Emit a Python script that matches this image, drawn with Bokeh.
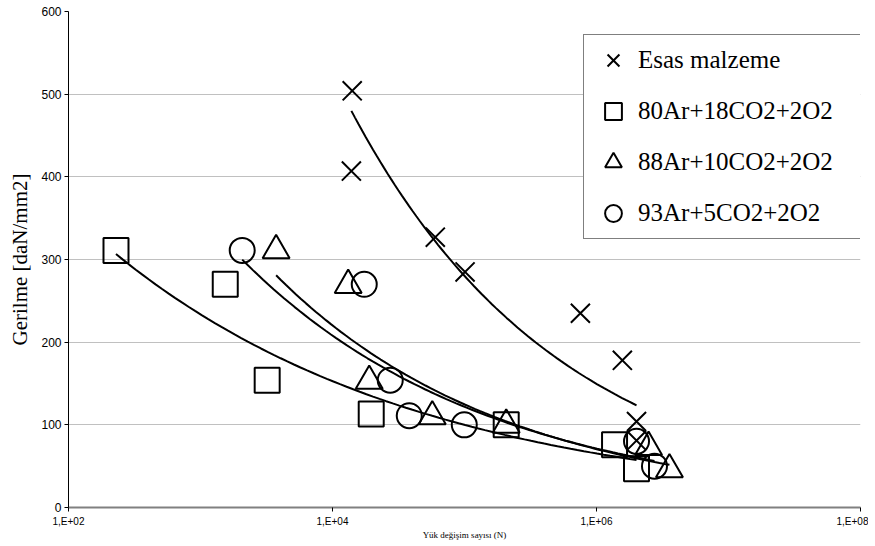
import numpy as np
from bokeh.plotting import figure
from bokeh.models import Range1d, FixedTicker, Legend, LegendItem
from bokeh.embed import file_html
from bokeh.resources import INLINE

# ---------------- data ----------------
series_names = ["Esas malzeme", "80Ar+18CO2+2O2", "88Ar+10CO2+2O2", "93Ar+5CO2+2O2"]

esas_n = [14100, 13900, 60100, 101000, 755000, 1570000, 2010000, 2010000]
esas_s = [504, 407, 327, 285, 235, 178, 104, 81]

ar80_n = [229, 1540, 3200, 19650, 207000, 1370000, 2010000]
ar80_s = [311, 270, 154, 113, 100, 76, 47]

ar88_n = [3740, 13150, 18980, 57000, 207000, 2480000, 3570000]
ar88_s = [311, 269, 153, 110, 100, 73, 46]

ar93_n = [2070, 17400, 27380, 38150, 99600, 2010000, 2750000]
ar93_s = [311, 270, 154, 111, 100, 80, 50]

x_ticks = [1e2, 1e4, 1e6, 1e8]
x_tick_labels = ["1,E+02", "1,E+04", "1,E+06", "1,E+08"]
y_ticks = [0, 100, 200, 300, 400, 500, 600]

x_title = "Yük değişim sayısı (N)"
y_title = "Gerilme [daN/mm2]"

# ---------------- figure ----------------
p = figure(frame_width=792, frame_height=496,
           x_axis_type="log", x_range=Range1d(1e2, 1e8), y_range=Range1d(0, 600),
           output_backend="svg", toolbar_location=None,
           min_border_left=68, min_border_right=8, min_border_top=11, min_border_bottom=26,
           background_fill_color="white", border_fill_color="white")
p.outline_line_color = None


def power_fit(n, s, npts=80):
    ln = np.log10(np.asarray(n, dtype=float))
    ls = np.log10(np.asarray(s, dtype=float))
    b, a = np.polyfit(ln, ls, 1)
    xs = np.logspace(ln.min(), ln.max(), npts)
    ys = 10 ** a * xs ** b
    return xs, ys


series = [
    (esas_n, esas_s, "x", 27),
    (ar80_n, ar80_s, "square", 25),
    (ar88_n, ar88_s, "triangle", 27),
    (ar93_n, ar93_s, "circle", 25),
]

items = []
for (n, s, mk, sz), name in zip(series, series_names):
    r = p.scatter(n, s, marker=mk, size=sz, line_color="black", line_width=2,
                  fill_color=None)
    xs, ys = power_fit(n, s)
    p.line(xs, ys, line_color="black", line_width=2)
    items.append(LegendItem(label=name, renderers=[r]))

legend = Legend(items=items, location=(515, 268),
                glyph_width=50, glyph_height=42, label_standoff=0,
                label_width=221, padding=4, spacing=9, margin=0,
                label_text_font="Liberation Serif", label_text_font_size="25px",
                label_text_color="black",
                border_line_color="black", border_line_width=1,
                background_fill_color="white", background_fill_alpha=1.0)
p.add_layout(legend)

# ---------------- axes ----------------
p.xaxis.ticker = FixedTicker(ticks=x_ticks, minor_ticks=[])
p.xaxis.major_label_overrides = {t: l for t, l in zip(x_ticks, x_tick_labels)}
p.xaxis.axis_line_color = "#808080"
p.xaxis.axis_line_width = 2
p.xaxis.major_tick_line_color = "black"
p.xaxis.major_tick_out = 4
p.xaxis.major_tick_in = 0
p.xaxis.minor_tick_line_color = None
p.xaxis.major_label_text_font = "Liberation Sans"
p.xaxis.major_label_text_font_size = "10px"
p.xaxis.major_label_text_color = "black"
p.xaxis.major_label_standoff = 4
p.xaxis.axis_label = x_title
p.xaxis.axis_label_text_font = "Liberation Serif"
p.xaxis.axis_label_text_font_size = "9px"
p.xaxis.axis_label_text_font_style = "normal"
p.xaxis.axis_label_text_color = "black"
p.xaxis.axis_label_standoff = 0

p.yaxis.ticker = FixedTicker(ticks=y_ticks, minor_ticks=[])
p.yaxis.axis_line_color = "black"
p.yaxis.axis_line_width = 1
p.yaxis.major_tick_line_color = "black"
p.yaxis.major_tick_out = 4
p.yaxis.major_tick_in = 0
p.yaxis.minor_tick_line_color = None
p.yaxis.major_label_text_font = "Liberation Sans"
p.yaxis.major_label_text_font_size = "12px"
p.yaxis.major_label_text_color = "black"
p.yaxis.major_label_standoff = 3
p.yaxis.axis_label = y_title
p.yaxis.axis_label_text_font = "Liberation Serif"
p.yaxis.axis_label_text_font_size = "21px"
p.yaxis.axis_label_text_font_style = "normal"
p.yaxis.axis_label_text_color = "black"
p.yaxis.axis_label_standoff = 6

p.xgrid.visible = False
p.ygrid.grid_line_color = "#c0c0c0"
p.ygrid.grid_line_width = 1

open("out.html", "w").write(file_html(p, INLINE))
